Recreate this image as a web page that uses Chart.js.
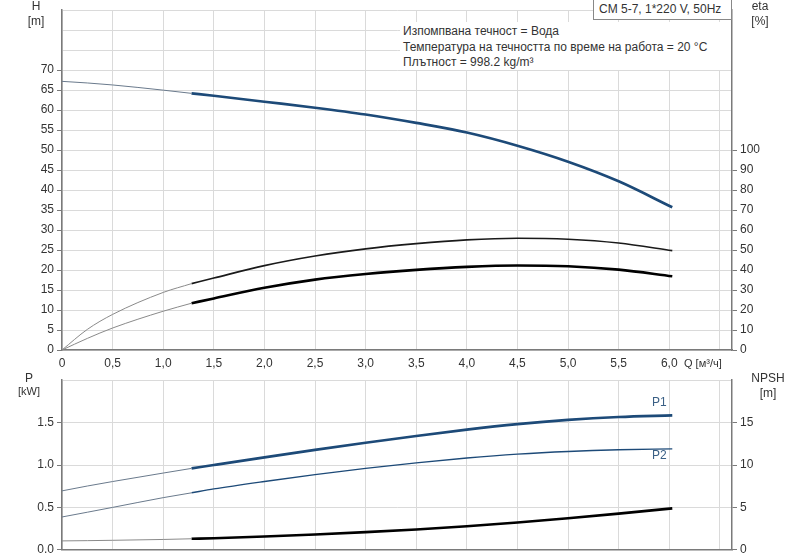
<!DOCTYPE html>
<html><head><meta charset="utf-8">
<script src="https://cdn.jsdelivr.net/npm/chart.js@4.4.1/dist/chart.umd.min.js"></script>
<style>
body{margin:0;background:#fff;font-family:"Liberation Sans",Arial,sans-serif;color:#333}
#wrap{position:relative;width:800px;height:560px;overflow:hidden}
canvas{position:absolute;left:0}
.t{position:absolute;font-size:12px;line-height:14px;white-space:nowrap;color:#333}
.c{text-align:center}
#info{position:absolute;left:400px;top:22px;width:331px;height:48px;background:#fff;padding:2px 0 0 3px;box-sizing:border-box;font-size:12px;line-height:15.5px;color:#333}
#model{position:absolute;left:593px;top:0;width:139px;height:20px;border:1px solid #888;border-top:none;background:#fff;box-sizing:border-box;font-size:12px;line-height:19px;padding-left:5px;color:#333}
</style></head><body>
<div id="wrap">
<canvas id="top" style="top:0;width:800px;height:372px"></canvas>
<canvas id="bot" style="top:370px;width:800px;height:190px"></canvas>
<div class="t c" style="left:26px;top:-1px;width:20px">H</div>
<div class="t c" style="left:21px;top:14px;width:30px">[m]</div>
<div class="t c" style="left:745px;top:-1px;width:30px">eta</div>
<div class="t c" style="left:745px;top:14px;width:30px">[%]</div>
<div class="t" style="left:684px;top:356px;font-size:11px">Q [м³/ч]</div>
<div class="t c" style="left:19px;top:371px;width:20px">P</div>
<div class="t c" style="left:14px;top:384px;width:30px;font-size:11px">[kW]</div>
<div class="t c" style="left:748px;top:371px;width:40px">NPSH</div>
<div class="t c" style="left:753px;top:386px;width:30px">[m]</div>
<div class="t" style="left:652px;top:395px;color:#3a5f85">P1</div>
<div class="t" style="left:652px;top:448px;color:#3a5f85">P2</div>
<div id="model">CM 5-7, 1*220 V, 50Hz</div>
<div id="info">Изпомпвана течност = Вода<br>Температура на течността по време на работа = 20 °C<br>Плътност = 998.2 kg/m³</div>
</div>
<script>
// flow, m3/h
const Q=[0,0.25,0.5,1.0,1.28,1.5,2.0,2.5,3.0,3.5,4.0,4.5,5.0,5.5,6.03];
const H=[67.2,66.8,66.3,65.0,64.2,63.6,62.1,60.6,58.9,56.8,54.4,51.1,47.1,42.2,35.7];
const ETA_PUMP=[0,10.3,17.8,28.8,33.2,36.0,42.2,47.0,50.6,53.2,55.1,55.9,55.4,53.5,49.7];
const ETA_TOT=[0,5.8,11.0,19.4,23.4,25.8,31.1,35.2,38.0,40.1,41.6,42.3,41.9,40.2,36.9];
const P1=[0.695,0.752,0.805,0.905,0.96,1.0,1.09,1.178,1.262,1.342,1.417,1.482,1.532,1.566,1.586];
const P2=[0.387,0.443,0.5,0.615,0.672,0.718,0.806,0.887,0.96,1.025,1.082,1.128,1.16,1.18,1.19];
const NPSH=[1.05,1.08,1.12,1.22,1.30,1.37,1.56,1.8,2.08,2.4,2.78,3.22,3.72,4.27,4.88];
const Q_START=1.28; // thin part of curves below this flow
const H_TICKS_MAX=70, ETA_TICKS_MAX=100;

const FONT={family:'"Liberation Sans", Arial, sans-serif',size:12};
const GRID='#dadada', AXIS='#7a7a7a', TXT='#333';
const BLUE='#1d4a78', THINBLUE='#6a7a8c', THINBLACK='#8a8a8a';

function pts(ys,from,to){
  return Q.map((q,i)=>({x:q,y:ys[i]})).filter(p=>p.x>=from&&p.x<=to);
}
function curve(ys,axis,color,w){
  return [
    {data:pts(ys,0,Q_START),yAxisID:axis,borderColor:color===BLUE?THINBLUE:THINBLACK,borderWidth:1},
    {data:pts(ys,Q_START,99),yAxisID:axis,borderColor:color,borderWidth:w}
  ];
}
function xScale(h,labels){
  return {type:'linear',min:0,max:6.62,
    afterFit(s){s.height=h},
    border:{color:AXIS,width:1.5},
    grid:{color:GRID,drawTicks:false},
    ticks:{display:labels,stepSize:0.5,includeBounds:false,padding:6,color:TXT,font:FONT,maxRotation:0,autoSkip:false,
      callback:v=>v===0?'0':(v>6.01?'':v.toFixed(1).replace('.',','))}};
}
function yScale(pos,max,step,lim,w,fmt,grid){
  return {type:'linear',position:pos,min:0,max:max,
    afterFit(s){s.width=w},
    border:{color:AXIS,width:1.5},
    grid:{color:GRID,drawOnChartArea:grid,tickLength:5,
      tickColor:c=>c.tick&&c.tick.value>lim+1e-9?'rgba(0,0,0,0)':AXIS},
    ticks:{stepSize:step,padding:3,color:TXT,font:FONT,autoSkip:false,
      callback:v=>v>lim+1e-9?'':fmt(v)}};
}
const common={responsive:false,animation:false,
  plugins:{legend:{display:false},tooltip:{enabled:false}},
  elements:{point:{radius:0},line:{cubicInterpolationMode:'monotone',fill:false}}};

new Chart(document.getElementById('top'),{
  type:'line',
  data:{datasets:[
    ...curve(H,'y',BLUE,2.7),
    ...curve(ETA_PUMP,'eta','#1a1a1a',1.6),
    ...curve(ETA_TOT,'eta','#000',2.6)
  ]},
  options:{...common,
    layout:{padding:{top:1,left:0,right:0,bottom:0}},
    scales:{
      x:xScale(22,true),
      y:yScale('left',85,5,H_TICKS_MAX,62,v=>v,true),
      eta:yScale('right',170,10,ETA_TICKS_MAX,68,v=>v,false)
    }}
});

new Chart(document.getElementById('bot'),{
  type:'line',
  data:{datasets:[
    ...curve(P1,'y',BLUE,2.7),
    ...curve(P2,'y',BLUE,1.4),
    ...curve(NPSH,'npsh','#000',2.6)
  ]},
  options:{...common,
    layout:{padding:{top:2,left:0,right:0,bottom:0}},
    scales:{
      x:xScale(10,false),
      y:yScale('left',2,0.5,1.5,62,v=>v.toFixed(1),true),
      npsh:yScale('right',20,5,15,68,v=>v,false)
    }}
});
</script>
</body></html>
